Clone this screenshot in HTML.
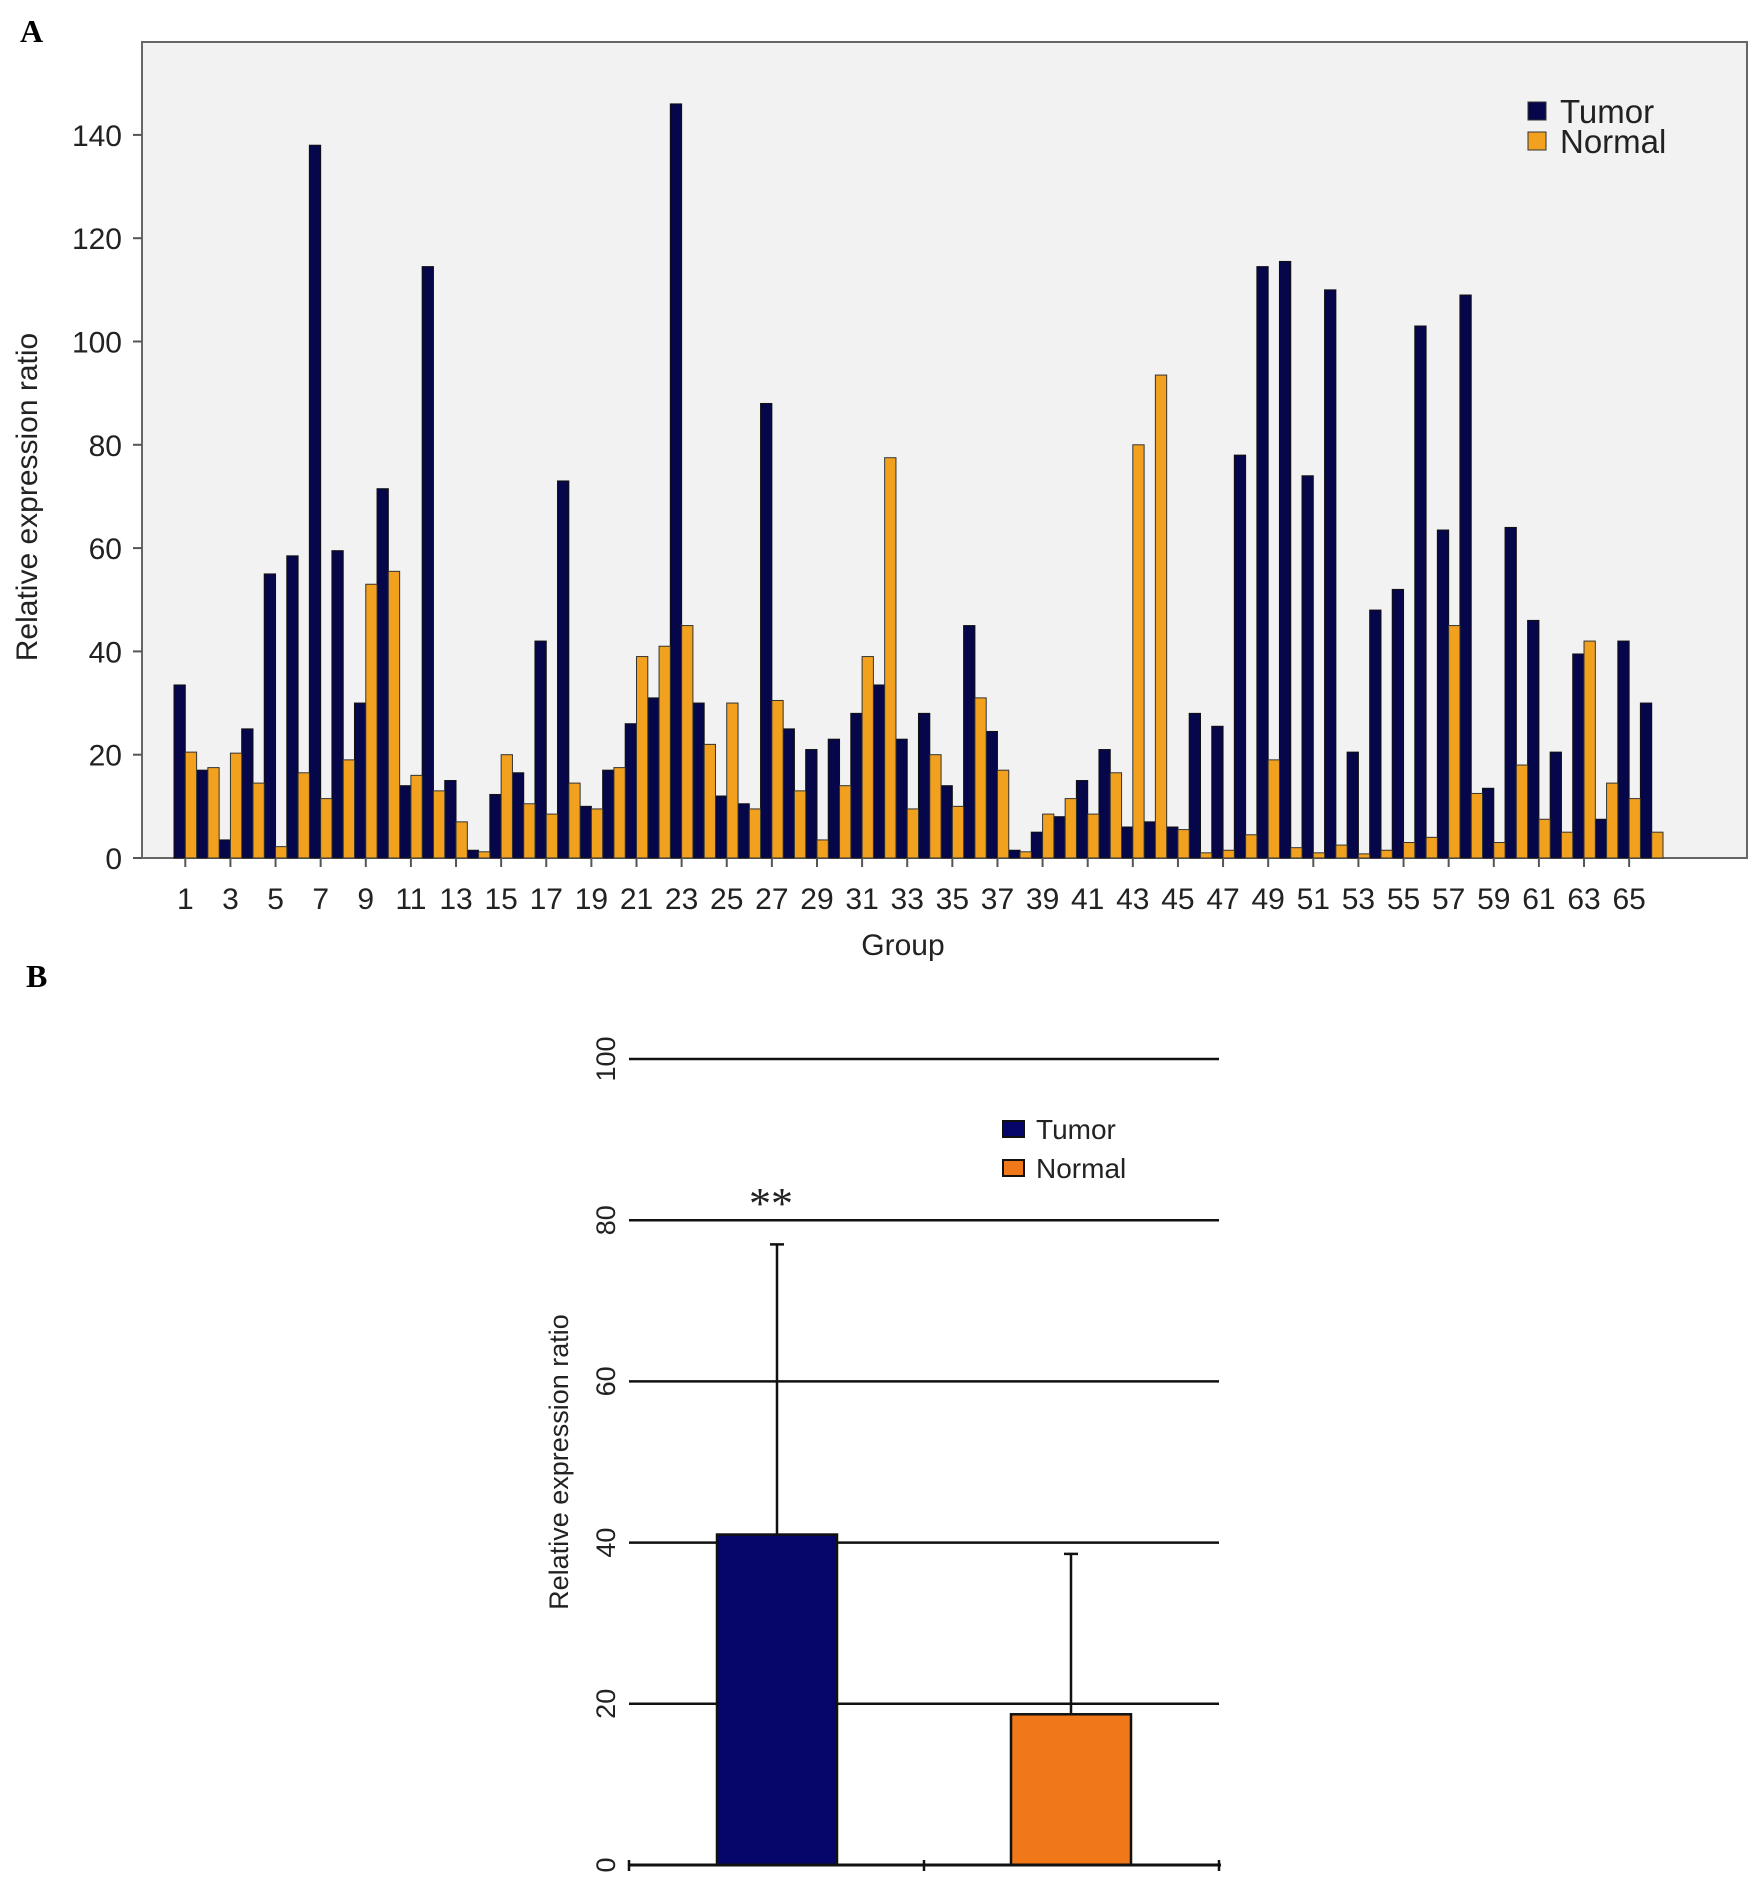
<!DOCTYPE html>
<html><head><meta charset="utf-8"><style>
html,body{margin:0;padding:0;background:#fff;}
svg{display:block;font-family:"Liberation Sans",Arial,sans-serif;}
</style></head><body>
<svg id="chart" width="1760" height="1890" viewBox="0 0 1760 1890" xmlns="http://www.w3.org/2000/svg">
<text x="20" y="42" font-family="Liberation Serif,serif" font-weight="bold" font-size="32">A</text>
<text x="26" y="987" font-family="Liberation Serif,serif" font-weight="bold" font-size="32">B</text>
<g id="pa"></g>
<g id="pb"></g>
</svg>
<script>
const tumorA=[33.5,17,3.5,25,55,58.5,138,59.5,30,71.5,14,114.5,15,1.5,12.3,16.5,42,73,10,17,26,31,146,30,12,10.5,88,25,21,23,28,33.5,23,28,14,45,24.5,1.5,5,8,15,21,6,7,6,28,25.5,78,114.5,115.5,74,110,20.5,48,52,103,63.5,109,13.5,64,46,20.5,39.5,7.5,42,30];
const normalA=[20.5,17.5,20.3,14.5,2.2,16.5,11.5,19,53,55.5,16,13,7,1.2,20,10.5,8.5,14.5,9.5,17.5,39,41,45,22,30,9.5,30.5,13,3.5,14,39,77.5,9.5,20,10,31,17,1.2,8.5,11.5,8.5,16.5,80,93.5,5.5,1,1.5,4.5,19,2,1,2.5,0.8,1.5,3,4,45,12.5,3,18,7.5,5,42,14.5,11.5,5];
const yTicksA=[0,20,40,60,80,100,120,140];
const seriesB=["Tumor","Normal"];
const meansB=[41,18.7];
const errB=[77,38.6];
const yTicksB=[0,20,40,60,80,100];

const NS="http://www.w3.org/2000/svg";
function mk(p,t,a,txt){const e=document.createElementNS(NS,t);for(const k in a)e.setAttribute(k,a[k]);if(txt!==undefined)e.textContent=txt;p.appendChild(e);return e;}

// Panel A
const pa=document.getElementById('pa');
const L=142,T=42,R=1747,Y0=858,K=5.165;
const yA=v=>Y0-v*K;
const xA=i=>185.3+i*22.56;
const bw=11.3;
let e=mk(pa,'rect',{x:L,y:T,width:R-L,height:Y0-T,fill:'#f2f2f2',stroke:'#666','stroke-width':2});


yTicksA.forEach(v=>{
 let t=mk(pa,'line',{x1:L-9,x2:L,y1:yA(v),y2:yA(v),stroke:'#555','stroke-width':2});
 
 
 let l=mk(pa,'text',{x:L-20,y:yA(v)+11,'text-anchor':'end','font-size':30,fill:'#222'},String(v));
 
 
});
tumorA.forEach((v,i)=>{
 let b=mk(pa,'rect',{x:xA(i)-bw,y:yA(v),width:bw,height:v*K,fill:'#06064a',stroke:'#111','stroke-width':1});
 
 
});
normalA.forEach((v,i)=>{
 let b=mk(pa,'rect',{x:xA(i),y:yA(v),width:bw,height:v*K,fill:'#f2a11f',stroke:'#333','stroke-width':1});
 
 
});
for(let i=0;i<65;i+=2){
 let t=mk(pa,'line',{x1:xA(i),x2:xA(i),y1:Y0,y2:Y0+9,stroke:'#555','stroke-width':2});
 
 
 let l=mk(pa,'text',{x:xA(i),y:909,'text-anchor':'middle','font-size':30,fill:'#222'},String(i+1));
 
 
}
e=mk(pa,'text',{x:903,y:955,'text-anchor':'middle','font-size':30,fill:'#222'},'Group');


e=mk(pa,'text',{x:0,y:0,'text-anchor':'middle','font-size':30,fill:'#222',transform:'translate(37,497) rotate(-90)'},'Relative expression ratio');


[['Tumor','#06064a',111],['Normal','#f2a11f',141]].forEach(([n,c,y])=>{
 let s=mk(pa,'rect',{x:1528,y:y-9,width:18,height:18,fill:c,stroke:'#333','stroke-width':1});
 
 
 let t=mk(pa,'text',{x:1560,y:y+12,'font-size':33,fill:'#222'},n);
 
 
});

// Panel B
const pb=document.getElementById('pb');
const BL=629,BR=1219,BY0=1865,BK=8.06;
const yB=v=>BY0-v*BK;
const cx=[777,1071];
const cols=['#06066a','#f07818'];
yTicksB.forEach(v=>{
 if(v>0){let g=mk(pb,'line',{x1:BL,x2:BR,y1:yB(v),y2:yB(v),stroke:'#111','stroke-width':2.5});
 
 }
 let l=mk(pb,'text',{x:0,y:0,'text-anchor':'middle','font-size':27,fill:'#222',transform:`translate(615,${yB(v)}) rotate(-90)`},String(v));
 
 
});
meansB.forEach((v,i)=>{
 let er=mk(pb,'line',{x1:cx[i],x2:cx[i],y1:yB(errB[i]),y2:yB(v),stroke:'#111','stroke-width':2.5});
 
 
 let cap=mk(pb,'line',{x1:cx[i]-7,x2:cx[i]+7,y1:yB(errB[i]),y2:yB(errB[i]),stroke:'#111','stroke-width':2.5});
 
 
 let b=mk(pb,'rect',{x:cx[i]-60,y:yB(v),width:120,height:v*BK,fill:cols[i],stroke:'#111','stroke-width':2.5});
 
 
});
e=mk(pb,'line',{x1:BL,x2:BR+2,y1:BY0,y2:BY0,stroke:'#111','stroke-width':3});


[BL,(BL+BR)/2,BR].forEach(x=>{
 let t=mk(pb,'line',{x1:x,x2:x,y1:BY0-5,y2:BY0+6,stroke:'#111','stroke-width':2.5});
 
 
});
e=mk(pb,'text',{x:0,y:0,'text-anchor':'middle','font-size':27,fill:'#222',transform:'translate(568,1462) rotate(-90)'},'Relative expression ratio');


e=mk(pb,'text',{x:771,y:1218,'text-anchor':'middle','font-size':44,fill:'#222','font-family':'Liberation Serif,serif'},'**');


[['Tumor',cols[0],1129],['Normal',cols[1],1168]].forEach(([n,c,y])=>{
 let s=mk(pb,'rect',{x:1003,y:y-8,width:21,height:16,fill:c,stroke:'#111','stroke-width':2});
 
 
 let t=mk(pb,'text',{x:1036,y:y+10,'font-size':28,fill:'#222'},n);
 
 
});
</script>
</body></html>
